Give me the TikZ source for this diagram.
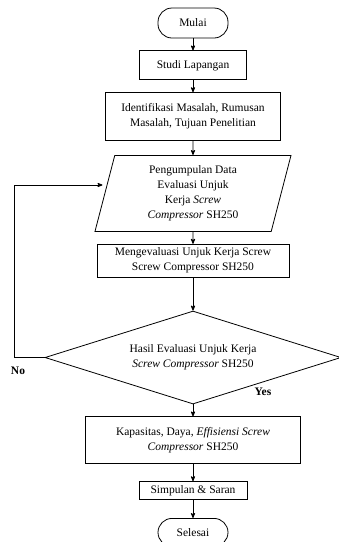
\documentclass[tikz,border=0pt]{standalone}
\usepackage{fontspec}
\setmainfont{Liberation Serif}
\usetikzlibrary{arrows,shapes.geometric,positioning}

\begin{document}
\begin{tikzpicture}[x=1pt,y=-1pt,>=stealth',thick,
                    every node/.style={font=\fontsize{11.5}{15}\selectfont,align=center},
                    proses/.style={draw,rectangle,inner sep=2pt},
                    ujung/.style={draw,rectangle,rounded corners=14pt,minimum width=70pt,minimum height=30pt},
                    masukan/.style={draw,trapezium,trapezium left angle=71,trapezium right angle=109,
                                    trapezium stretches body,minimum width=196pt,minimum height=76pt,inner sep=1pt},
                    keputusan/.style={draw,diamond,aspect=3.2,minimum width=296pt,minimum height=93pt,inner sep=0pt}]
	\useasboundingbox (0,0) rectangle (339,542);
	\node[ujung]									(mulai)	at (193,23)				{Mulai};
	\node[proses,minimum width=107pt,minimum height=29pt]	(studi)		[below=12pt of mulai]		{Studi Lapangan};
	\node[proses,minimum width=175pt,minimum height=48pt]	(identifikasi)	[below=12pt of studi]		{Identifikasi Masalah, Rumusan\\Masalah, Tujuan Penelitian};
	\node[masukan]								(data)		[below=14pt of identifikasi]	{Pengumpulan Data\\Evaluasi Unjuk\\Kerja \textit{Screw}\\\textit{Compressor} SH250};
	\node[proses,minimum width=192pt,minimum height=33pt]	(evaluasi)	[below=12pt of data]		{Mengevaluasi Unjuk Kerja Screw\\Screw Compressor SH250};
	\node[keputusan]								(hasil)		[below=33pt of evaluasi]		{Hasil Evaluasi Unjuk Kerja\\\textit{Screw Compressor} SH250};
	\node[proses,minimum width=215pt,minimum height=47pt]	(kapasitas)	[below=12pt of hasil]		{Kapasitas, Daya, \textit{Effisiensi Screw}\\\textit{Compressor} SH250};
	\node[proses,minimum width=108pt,minimum height=18pt]	(simpulan)	[below=17pt of kapasitas]	{Simpulan \& Saran};
	\node[ujung,minimum height=28pt]						(selesai)	[below=18pt of simpulan]	{Selesai};
	\node										(ya)		at (263,392)				{\textbf{Yes}};
	\node										(tidak)	at (18,371)				{\textbf{No}};
	\coordinate (belok) at (14,185);
	\path[->]	(mulai)		edge	(studi)
			(studi)		edge	(identifikasi)
			(identifikasi)	edge	(data)
			(data)		edge	(evaluasi)
			(evaluasi)	edge	(hasil)
			(hasil)		edge	(kapasitas)
			(kapasitas)	edge	(simpulan)
			(simpulan)	edge	(selesai);
	\draw[->,shorten >=2pt] (hasil.west) -| (belok) -- (belok -| data.west);
\end{tikzpicture}
\end{document}
